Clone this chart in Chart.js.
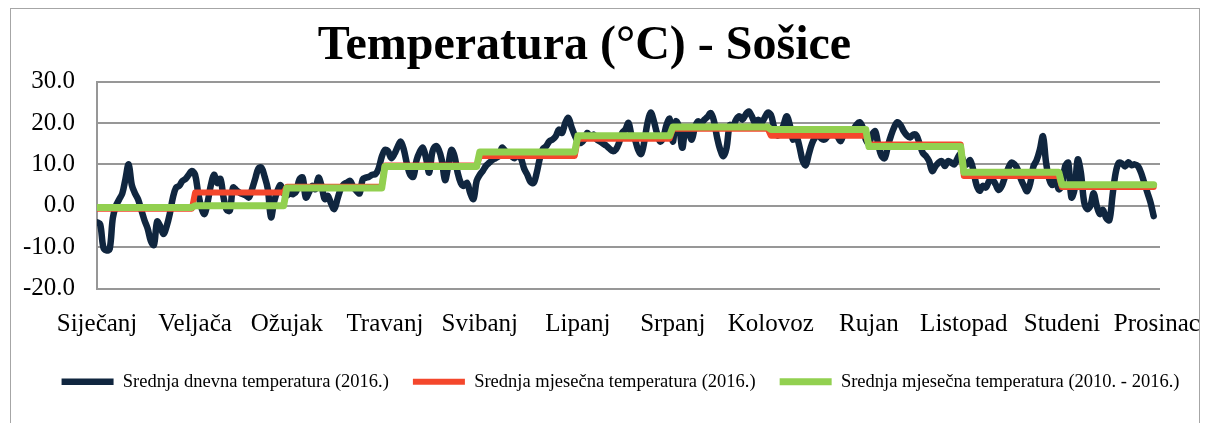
<!DOCTYPE html>
<html>
<head>
<meta charset="utf-8">
<title>Temperatura - Sošice</title>
<script src="https://cdn.jsdelivr.net/npm/chart.js@4.4.1/dist/chart.umd.min.js"></script>
<style>
    html, body { margin: 0; padding: 0; background: #fff; overflow: hidden; width: 1209px; height: 423px; }
    #frame { position: absolute; left: 10px; top: 8px; width: 1190px; height: 440px; border: 1px solid #a6a6a6; box-sizing: border-box; }
    #wrap { position: absolute; left: 0; top: 0; width: 1209px; height: 423px; }
</style>
</head>
<body>
<div id="frame"></div>
<div id="wrap"><canvas id="tempChart"></canvas></div>
<script>
// Month names on the x axis (2016, Jan 1 .. Dec 1)
const monthLabels = ['Siječanj', 'Veljača', 'Ožujak', 'Travanj', 'Svibanj', 'Lipanj',
    'Srpanj', 'Kolovoz', 'Rujan', 'Listopad', 'Studeni', 'Prosinac'];
const monthLengths = [31, 29, 31, 30, 31, 30, 31, 31, 30, 31, 30, 31];
const yTicks = [-20, -10, 0, 10, 20, 30];

// Srednja dnevna temperatura (2016.), one value per day, Jan 1 .. Nov 30
const dailyTemp2016 = [
    -4, -4.5, -10, -10.8, -10.5, -3, 0, 1.5, 3, 6.5, 10, 5, 3, 1.5, -1, -3.5, -5.5, -8.5, -9.5, -3.8, -5, -6.8, -5, -2, 2, 4.4, 4.8, 6, 6.5, 7.5, 8.4, // sij
    7.5, 3, -0.5, -2, 1, 5, 7.5, 5.5, 6.5, 2, -1, -1.2, 4.4, 3.8, 3.2, 2.8, 2.5, 2, 4, 6.5, 9, 9.2, 7, 4, -2.8, 1, 3.5, 5, 3, // velj
    2.5, 3, 2.8, 3.5, 6.4, 6.8, 2, 3.2, 4.8, 4, 6.8, 4.8, 1.6, 2.4, 0.5, -0.8, 1.6, 4, 5.2, 5.6, 6, 4.5, 3.6, 3, 6.4, 6.8, 7, 7.5, 7.6, 9, 11.8, // ožu
    13.5, 13.2, 11.5, 12.5, 14.2, 15.5, 13.5, 10, 7.5, 7, 11, 13, 14, 11.5, 8, 13, 14.4, 13.6, 11, 6.2, 9.5, 13.5, 12, 8, 5.5, 4.8, 5.5, 3, 1.6, 6, // tra
    7.5, 8.5, 9.7, 10.4, 11.1, 11.5, 12, 14, 13.3, 12.5, 12, 11.5, 12.5, 11.5, 9, 7.5, 5.8, 5.5, 8, 11.5, 13.8, 14.4, 15.6, 16, 16.8, 18.4, 17.6, 20, 21.2, 19, 17, // svi
    15.5, 15.2, 16, 17.6, 16.5, 17.2, 16, 15.5, 15, 14.5, 13.8, 13.2, 13.6, 15.2, 17.6, 18.4, 20, 17, 16, 13.6, 12.5, 15.5, 20, 22.5, 20.5, 17.5, 15.5, 16.5, 19.5, 21, // lip
    15.5, 20.4, 19, 14, 18.4, 17.6, 16, 19, 20.4, 20, 20.8, 21.5, 22.4, 20.5, 16.5, 13.5, 12, 14, 19.5, 19.2, 20.8, 21.6, 20.8, 22, 22.8, 21.6, 20, 20.8, 20, 21.2, 22.5, // srp
    22, 19, 17, 17.6, 19.5, 21.6, 19.5, 16, 16.8, 14.4, 11, 9.8, 12.5, 15, 16.5, 17.2, 16.2, 16, 16.8, 17.4, 17.2, 16.8, 15.6, 17.2, 17.8, 18.2, 18.4, 19.5, 20.2, 19, 16, // kol
    15, 17.2, 18, 14.5, 12, 11.5, 14.5, 17, 19, 20.2, 19.5, 18, 17, 16.5, 17.2, 17, 15, 12.8, 12, 10.8, 8.4, 9.5, 10.4, 10.8, 9.6, 10.8, 10.4, 10, 11.5, 12.5, // ruj
    10.5, 10, 11, 8.5, 5, 3.6, 4.8, 4.4, 6, 6.4, 5.2, 3.8, 4.8, 7, 9, 10.4, 10, 8.8, 6.5, 4.8, 3.5, 5.5, 9.5, 11, 13.5, 16.8, 10.4, 6.4, 5, 6.4, 4, // lis
    5, 9.5, 10.4, 2, 4, 11.2, 8, 1, -0.8, 0, 3, 0, -2, -1, -3, -3.5, 2.5, 8, 10.4, 10.2, 9.5, 10.5, 9.8, 10, 9.6, 8, 5.6, 3.2, 0.8, -2.5 // stu
];

// Monthly means, Jan .. Nov
const monthlyMean2016 = [-0.7, 3.2, 4.6, 9.7, 12.0, 16.2, 18.6, 16.9, 14.8, 7.2, 4.5];
const monthlyMean2010_2016 = [-0.4, 0.0, 4.3, 9.5, 13.0, 16.9, 19.0, 18.4, 14.3, 8.1, 5.1];

// first day index of every month (tick positions)
const monthStart = [];
monthLengths.reduce((acc, len) => { monthStart.push(acc); return acc + len; }, 0);

// repeat each monthly mean over the days of its month
function expandMonthly(values) {
    const out = [];
    values.forEach((v, m) => {
        for (let d = 0; d < monthLengths[m]; d++) out.push({ x: out.length, y: v });
    });
    return out;
}

const serif = 'Liberation Serif';
const gridGray = '#979797';

// Excel puts the title a bit left of centre and the legend a bit right of it
const nudgeBlocks = {
    id: 'nudgeBlocks',
    afterLayout(chart) {
        if (chart.titleBlock) { chart.titleBlock.left -= 20; chart.titleBlock.right -= 20; }
        if (chart.legend) { chart.legend.left += 16; chart.legend.right += 16; }
    }
};

const ctx = document.getElementById('tempChart');
new Chart(ctx, {
    type: 'line',
    data: {
        datasets: [{
            label: 'Srednja dnevna temperatura (2016.)',
            data: dailyTemp2016.map((v, i) => ({ x: i, y: v })),
            borderColor: '#10263f',
            backgroundColor: '#10263f',
            borderWidth: 6.5,
            tension: 0.35,
            pointRadius: 0,
            borderCapStyle: 'round',
            borderJoinStyle: 'round',
            order: 3
        }, {
            label: 'Srednja mjesečna temperatura (2016.)',
            data: expandMonthly(monthlyMean2016),
            borderColor: '#f4472c',
            backgroundColor: '#f4472c',
            borderWidth: 6,
            pointRadius: 0,
            borderCapStyle: 'round',
            borderJoinStyle: 'round',
            order: 2
        }, {
            label: 'Srednja mjesečna temperatura (2010. - 2016.)',
            data: expandMonthly(monthlyMean2010_2016),
            borderColor: '#92d050',
            backgroundColor: '#92d050',
            borderWidth: 7,
            pointRadius: 0,
            borderCapStyle: 'round',
            borderJoinStyle: 'round',
            order: 1
        }]
    },
    options: {
        responsive: true,
        maintainAspectRatio: false,
        animation: false,
        layout: {
            padding: { left: 0, right: 0, top: 0, bottom: 22 }
        },
        plugins: {
            title: {
                display: true,
                text: 'Temperatura (°C) - Sošice',
                color: '#000',
                font: { family: serif, size: 48, weight: 'bold' },
                padding: { top: 18, bottom: 6 }
            },
            legend: {
                position: 'bottom',
                labels: {
                    usePointStyle: true,
                    pointStyle: 'line',
                    pointStyleWidth: 52,
                    padding: 24,
                    color: '#000',
                    font: { family: serif, size: 18.5 },
                    sort: (a, b) => a.datasetIndex - b.datasetIndex
                }
            },
            tooltip: { enabled: false }
        },
        scales: {
            x: {
                type: 'linear',
                min: 0,
                max: 336,
                grid: { display: false },
                border: { display: false },
                afterBuildTicks: (scale) => {
                    scale.ticks = monthStart.map(v => ({ value: v }));
                },
                afterFit: (scale) => {
                    scale.height = 60;
                    scale.paddingRight = 49;
                },
                ticks: {
                    autoSkip: false,
                    maxRotation: 0,
                    minRotation: 0,
                    padding: 13,
                    color: '#000',
                    font: { family: serif, size: 25 },
                    callback: (value) => monthLabels[monthStart.indexOf(value)]
                }
            },
            y: {
                min: -20,
                max: 30,
                afterBuildTicks: (scale) => {
                    scale.ticks = yTicks.map(v => ({ value: v }));
                },
                afterFit: (scale) => {
                    scale.width = 97;
                },
                grid: { color: gridGray, lineWidth: 2, drawTicks: false },
                border: { display: true, color: gridGray, width: 2 },
                ticks: {
                    padding: 22,
                    color: '#000',
                    font: { family: serif, size: 25 },
                    callback: (value) => value.toFixed(1)
                }
            }
        }
    },
    plugins: [nudgeBlocks]
});
</script>
</body>
</html>
